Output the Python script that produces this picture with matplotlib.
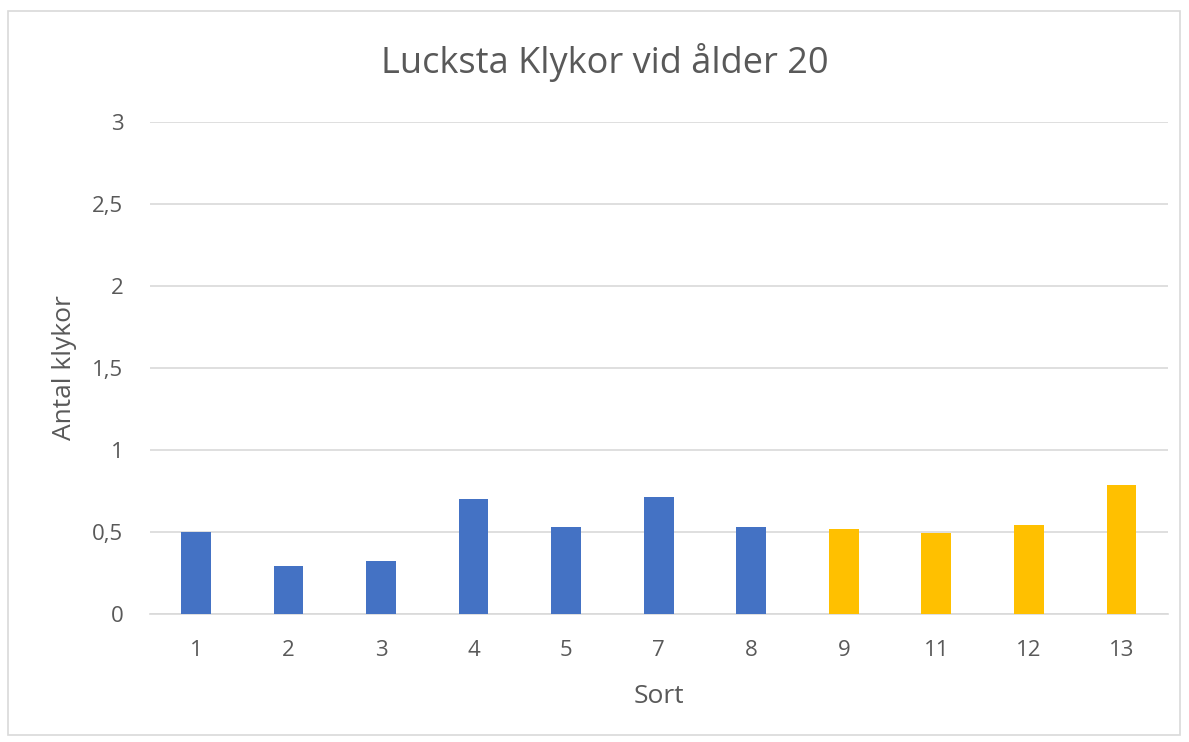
import numpy as np
import matplotlib
matplotlib.use('Agg')
import matplotlib.pyplot as plt
from matplotlib.patches import Rectangle

plt.rcParams['font.family'] = ['Open Sans', 'DejaVu Sans']

# data
sorts = ['1', '2', '3', '4', '5', '7', '8', '9', '11', '12', '13']
klykor = [0.50, 0.295, 0.325, 0.70, 0.533, 0.713, 0.533, 0.518, 0.494, 0.545, 0.785]
groups = ['a', 'a', 'a', 'a', 'a', 'a', 'a', 'b', 'b', 'b', 'b']

group_colors = {'a': '#4472C4', 'b': '#FFC000'}
txt = '#595959'

fig = plt.figure(figsize=[11.89, 7.42], dpi=100)
ax = fig.add_axes([0.126, 0.1725, 0.856, 0.6631])

x = np.arange(len(sorts))
bar_colors = [group_colors[g] for g in groups]
ax.bar(x, klykor, width=0.32, color=bar_colors, zorder=3)

ax.set_xlim(-0.5, len(sorts) - 0.5)
ax.set_ylim(0, 3)
yt = [0, 0.5, 1, 1.5, 2, 2.5, 3]
ax.set_yticks(yt)
ax.set_yticklabels([('%g' % v).replace('.', ',') for v in yt])
ax.set_xticks(x)
ax.set_xticklabels(sorts)
ax.grid(axis='y', color='#D9D9D9', linewidth=1.2, zorder=0)
ax.tick_params(axis='both', length=0, labelsize=16, labelcolor=txt)
ax.tick_params(axis='y', pad=19)
ax.tick_params(axis='x', pad=19)
for s in ['top', 'right', 'left']:
    ax.spines[s].set_visible(False)
ax.spines['bottom'].set_color('#D9D9D9')
ax.spines['bottom'].set_linewidth(1.2)

ax.set_ylabel('Antal klykor', fontsize=19, color=txt, va='center')
ax.yaxis.set_label_coords(-0.0835, 0.5)
ax.set_xlabel('Sort', fontsize=19, color=txt, va='center')
ax.xaxis.set_label_coords(0.5, -0.168)
fig.text(0.509, 0.916, 'Lucksta Klykor vid ålder 20', fontsize=26, color=txt,
         ha='center', va='center')

# chart border
fig.patches.append(Rectangle((8/1189, 1 - 735/742), 1172/1189, 724/742,
                             transform=fig.transFigure, fill=False,
                             edgecolor='#D9D9D9', linewidth=1.2))

fig.savefig('out.png', dpi=100)
